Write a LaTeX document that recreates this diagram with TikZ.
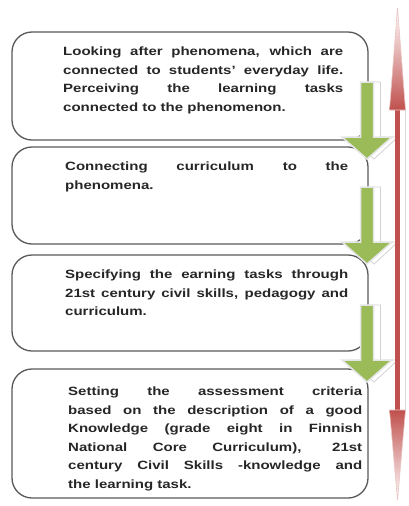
\documentclass[tikz,border=0pt]{standalone}
\usepackage{fontspec}
\newfontfamily\boxfont[FakeStretch=1.25]{Liberation Sans}
\definecolor{arrowgreen}{HTML}{9BBB59}
\definecolor{arrowred}{HTML}{C0504D}
\definecolor{boxgray}{HTML}{595959}
\definecolor{textgray}{HTML}{262626}
\tikzset{
  boxline/.style={draw=boxgray, line width=1.3pt, rounded corners=20pt},
  boxtext/.style={anchor=north west, inner sep=0pt, align=justify, text=textgray,
    font=\boxfont\bfseries\fontsize{12}{18.5}\selectfont},
  greenarrow/.style={fill=arrowgreen, draw=gray!20, line width=1.5pt},
  arrowshadow/.style={fill=white, draw=gray!35, line width=0.8pt},
}
\begin{document}
\begin{tikzpicture}[x=1pt,y=-1pt]
\useasboundingbox (0,0) rectangle (409,506);

%四個方框
\foreach \a/\b in {32/140, 147/244, 255/351, 369/498}
{
    \draw[boxline] (12,\a) rectangle (368,\b);
};

%方框內的文字
\coordinate (cTxtA) at (63,47);
\coordinate (cTxtB) at (65,162);
\coordinate (cTxtC) at (65,270);
\coordinate (cTxtD) at (68,387);

\node[boxtext, text width=280pt] (nTxtA) at (cTxtA)
{Looking after phenomena, which are\linebreak
connected to students’ everyday life.\linebreak
Perceiving the learning tasks\linebreak
connected to the phenomenon.};

\node[boxtext, text width=283pt] (nTxtB) at (cTxtB)
{Connecting curriculum to the\linebreak
phenomena.};

\node[boxtext, text width=283pt] (nTxtC) at (cTxtC)
{Specifying the earning tasks through\linebreak
21st century civil skills, pedagogy and\linebreak
curriculum.};

\node[boxtext, text width=294pt] (nTxtD) at (cTxtD)
{Setting the assessment criteria\linebreak
based on the description of a good\linebreak
Knowledge (grade eight in Finnish\linebreak
National Core Curriculum), 21st\linebreak
century Civil Skills -knowledge and\linebreak
the learning task.};

%綠色箭頭
\foreach \t in {82,187,305}
{
    \begin{scope}[shift={(367,\t)}]
    \draw[arrowshadow] (0.5,0) -- (13.5,0) -- (13.5,55) -- (31,55) -- (7,77)
        -- (-17,55) -- (0.5,55) -- cycle;
    \draw[greenarrow] (-6.5,0) -- (6.5,0) -- (6.5,55) -- (25,55) -- (0,77)
        -- (-25,55) -- (-6.5,55) -- cycle;
    \end{scope}
};

%紅色雙向箭頭
\coordinate (cRTop) at (397.5,8);
\coordinate (cRBot) at (397.5,500);

\draw[gray!30, line width=0.8pt] (405,110) -- (405,410);
\fill[arrowred] (395,108) rectangle (400,412);
\shadedraw[top color=white, bottom color=arrowred, draw=arrowred!35, line width=0.6pt]
    (cRTop) -- (405.5,110) -- (389.5,110) -- cycle;
\shadedraw[top color=arrowred, bottom color=white, draw=arrowred!35, line width=0.6pt]
    (389.5,410) -- (405.5,410) -- (cRBot) -- cycle;

\end{tikzpicture}
\end{document}
